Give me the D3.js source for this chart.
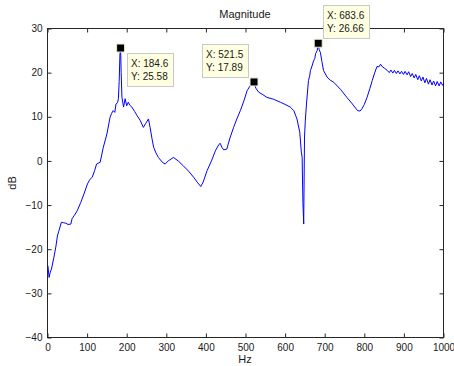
<!DOCTYPE html>
<html>
<head>
<meta charset="utf-8">
<script src="https://cdn.jsdelivr.net/npm/d3@7"></script>
<style>
  body { margin: 0; background: #fff; }
  text { font-family: 'Liberation Sans', Arial, sans-serif; fill: #1a1a1a; }
</style>
</head>
<body>
<div id="chart"></div>
<script>
// Frequency response (Hz, dB)
const hz = [1, 4, 7, 10, 16, 21, 25, 29, 35, 40, 46, 52, 59, 62, 68, 75, 84, 92, 101, 107, 113, 119, 124, 133,
  141, 150, 158, 162, 166, 170, 173, 177, 179, 181, 183, 184.6, 186, 188, 192, 196, 200, 204, 208, 213, 220, 226,
  234, 242, 248, 255, 259, 264, 268, 274, 280, 290, 297, 305, 318, 330, 343, 356, 369, 378, 387, 393, 403, 414,
  424, 432, 436, 441, 445, 453, 460, 470, 478, 487, 496, 504, 512, 521.5, 526, 533, 544, 554, 570, 588, 600, 613,
  622, 630, 637, 641, 643, 645, 647, 649, 651, 654, 659, 662, 664, 668, 672, 675, 677, 681, 683.6, 686, 689, 693,
  697, 706, 714, 723, 740, 756, 770, 783, 789, 794, 800, 807, 814, 820, 826, 832, 837, 841, 846, 851, 858, 863,
  867, 872, 876, 881, 885, 890, 894, 899, 903, 908, 912, 917, 921, 926, 930, 935, 939, 944, 948, 953, 957, 962,
  966, 971, 975, 980, 984, 989, 993, 998, 1000];
const db = [-23.7, -26.4, -25.2, -24.5, -21.9, -19.5, -17, -15.8, -13.9, -14.0, -14.1, -14.4, -14.3, -13.1, -12.3,
  -11.3, -9.4, -7.5, -5.2, -4.2, -3.7, -2.2, -0.7, -0.3, 3.1, 6.1, 9.9, 10.8, 11.4, 11.0, 12.9, 13.2, 14.1, 18,
  24.3, 25.58, 20, 14.4, 12.2, 14.1, 12.5, 13.3, 12.6, 12.2, 11.2, 10.3, 9.2, 7.6, 8.5, 9.5, 7.6, 5.0, 3.1, 1.8,
  0.8, -0.3, -0.7, 0, 0.8, 0, -1.1, -2.3, -3.7, -4.8, -5.8, -4.8, -2.2, 0, 2.3, 3.6, 4.0, 3.0, 2.5, 2.7, 5, 7.6,
  9.5, 11.4, 13.6, 15.9, 17.1, 17.89, 16.5, 15.6, 15, 14.4, 14, 13.3, 12.8, 12.2, 11.4, 9.5, 6.5, 2, 0.8, -9.4,
  -14.3, 5.4, 9, 12.9, 18.2, 19.2, 20.5, 21.5, 22.7, 23.2, 24.3, 25.0, 26.66, 25.2, 24.6, 22.5, 20.5, 19.0, 18.3,
  17.8, 16.2, 14.4, 12.9, 11.4, 11.3, 11.8, 12.8, 14.4, 16.4, 18.2, 19.9, 21.4, 21.3, 21.9, 21.3, 21.0, 20.5,
  20.0, 20.6, 19.9, 20.5, 19.8, 20.4, 19.7, 20.3, 19.6, 20.3, 19.5, 20.2, 19.1, 19.8, 18.8, 19.6, 18.4, 19.3,
  18.1, 19.0, 17.7, 18.7, 17.4, 18.4, 17.2, 18.1, 17.0, 18.0, 17.0, 17.9, 17.1, 17.6];

// data tips
const tipX = [184.6, 521.5, 683.6];
const tipY = [25.58, 17.89, 26.66];
const tipSide = ['right', 'left', 'above'];

const xTicks = [0, 100, 200, 300, 400, 500, 600, 700, 800, 900, 1000];
const yTicks = [-40, -30, -20, -10, 0, 10, 20, 30];

const width = 454;
const height = 366;
const margin = { top: 28.5, right: 10.5, bottom: 28.5, left: 47.5 };

const svg = d3.select('#chart').append('svg').attr('width', width).attr('height', height);

const x = d3.scaleLinear().domain([0, 1000]).range([margin.left, width - margin.right]);
const y = d3.scaleLinear().domain([-40, 30]).range([height - margin.bottom, margin.top]);

/* Axes
=========================================================================*/
const axisColor = '#262626';
const styleAxis = (g) => {
  g.select('.domain').remove();
  g.selectAll('.tick line').attr('stroke', axisColor);
  g.selectAll('.tick text').style('font-size', '10px').attr('fill', '#1a1a1a');
};

svg.append('g')
  .attr('transform', `translate(0,${y(-40)})`)
  .call(d3.axisBottom(x).tickValues(xTicks).tickSize(-4).tickPadding(6).tickFormat(d3.format('d')))
  .call(styleAxis);
svg.append('g')
  .attr('transform', `translate(0,${y(30)})`)
  .call(d3.axisTop(x).tickValues(xTicks).tickSize(-4).tickFormat(''))
  .call(styleAxis);
svg.append('g')
  .attr('transform', `translate(${x(0)},0)`)
  .call(d3.axisLeft(y).tickValues(yTicks).tickSize(-4).tickPadding(5))
  .call(styleAxis);
svg.append('g')
  .attr('transform', `translate(${x(1000)},0)`)
  .call(d3.axisRight(y).tickValues(yTicks).tickSize(-4).tickFormat(''))
  .call(styleAxis);

svg.append('rect')
  .attr('x', x(0)).attr('y', y(30))
  .attr('width', x(1000) - x(0)).attr('height', y(-40) - y(30))
  .attr('fill', 'none').attr('stroke', axisColor);

/* Curve
=========================================================================*/
const points = hz.map((h, i) => [h, db[i]]);
svg.append('path')
  .datum(points)
  .attr('fill', 'none')
  .attr('stroke', '#0000ff')
  .attr('stroke-width', 1)
  .attr('d', d3.line().x((d) => x(d[0])).y((d) => y(d[1])));

/* Labels
=========================================================================*/
svg.append('text').attr('x', 245).attr('y', 18).attr('text-anchor', 'middle').style('font-size', '11px').text('Magnitude');
svg.append('text').attr('x', 245).attr('y', 363).attr('text-anchor', 'middle').style('font-size', '11px').text('Hz');
svg.append('text')
  .attr('transform', `translate(16,${(y(30) + y(-40)) / 2}) rotate(-90)`)
  .attr('text-anchor', 'middle').style('font-size', '11px').text('dB');

/* Data tips
=========================================================================*/
const boxW = 46;
const boxH = 33;
tipX.forEach((tx, i) => {
  const px = x(tx);
  const py = y(tipY[i]);
  let bx, by;
  if (tipSide[i] === 'right') { bx = px + 6; by = py + 5; }
  else if (tipSide[i] === 'left') { bx = px - 52; by = py - 38; }
  else { bx = px + 5; by = py - 38; }
  const g = svg.append('g');
  g.append('rect')
    .attr('x', Math.round(bx) + 0.5).attr('y', Math.round(by) + 0.5)
    .attr('width', boxW).attr('height', boxH)
    .attr('fill', '#ffffe1').attr('stroke', '#c8c8c8');
  g.append('text').attr('x', Math.round(bx) + 4).attr('y', Math.round(by) + 14).style('font-size', '10px').text(`X: ${tx}`);
  g.append('text').attr('x', Math.round(bx) + 4).attr('y', Math.round(by) + 27).style('font-size', '10px').text(`Y: ${tipY[i]}`);
  g.append('rect')
    .attr('x', px - 4).attr('y', py - 4).attr('width', 8).attr('height', 8)
    .attr('fill', '#000').attr('stroke', '#f0ecc8').attr('stroke-width', 1);
});
</script>
</body>
</html>
